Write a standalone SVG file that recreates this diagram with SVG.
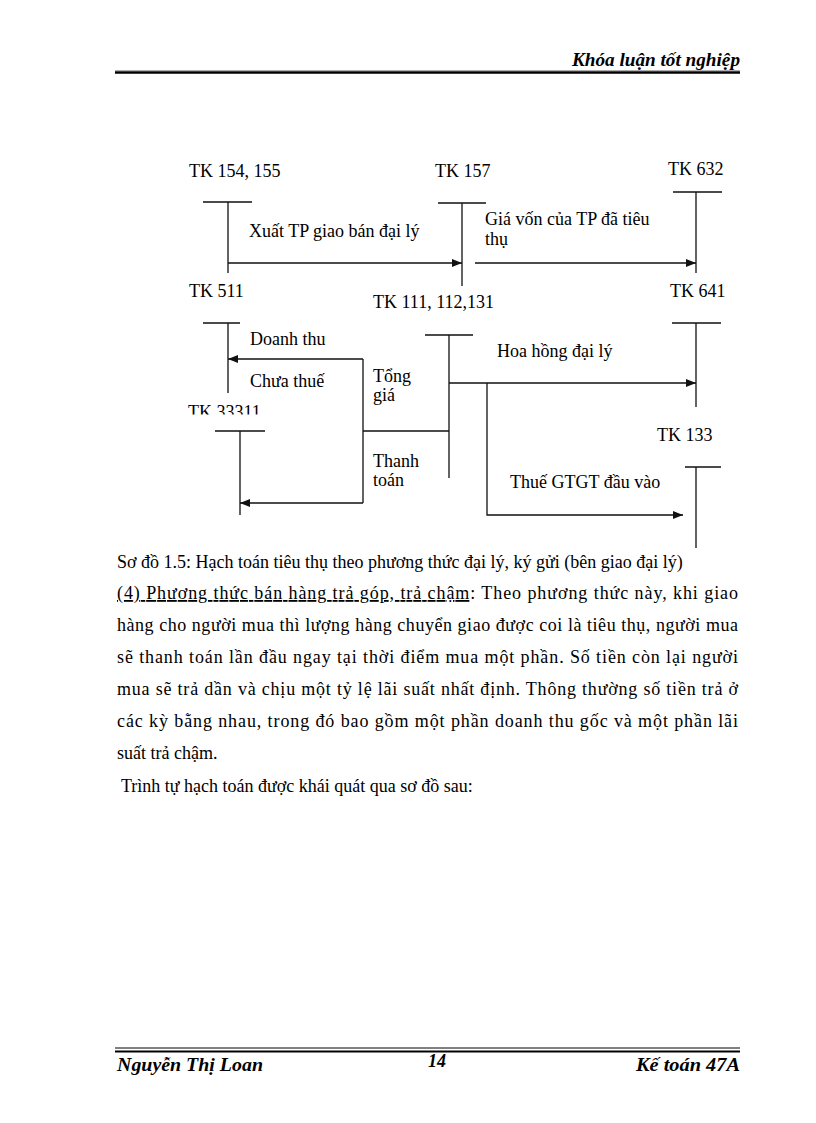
<svg xmlns="http://www.w3.org/2000/svg" width="816" height="1123" viewBox="0 0 816 1123">
<style>
text{font-family:"Liberation Serif","Times New Roman",serif;font-size:18px;fill:#000}
.hf{font-weight:bold;font-style:italic}
.ln{stroke:#111;stroke-width:1.3;fill:none}
.ar{stroke:#111;stroke-width:1.3;fill:none;marker-end:url(#ah)}
</style>
<defs>
<marker id="ah" viewBox="0 0 10 8" refX="10" refY="4" markerWidth="10" markerHeight="8" markerUnits="userSpaceOnUse" orient="auto">
<path d="M0,0 L10,4 L0,8 Z" fill="#111"/>
</marker>
<clipPath id="cut33311"><rect x="180" y="395" width="120" height="19.5"/></clipPath>
</defs>
<rect width="816" height="1123" fill="#fff"/>

<g id="header">
<text class="hf" x="740" y="66" text-anchor="end" textLength="168" lengthAdjust="spacingAndGlyphs">Khóa luận tốt nghiệp</text>
<line x1="115" y1="70.5" x2="740" y2="70.5" stroke="#999" stroke-width="0.8"/>
<line x1="115" y1="72.5" x2="740" y2="72.5" stroke="#000" stroke-width="2.5"/>
</g>

<g id="tk154">
<text x="189" y="177">TK 154, 155</text>
<path class="ln" d="M203,202 H252 M228,202 V273"/>
</g>
<g id="tk157">
<text x="435" y="177">TK 157</text>
<path class="ln" d="M438,203 H486 M462,203 V286"/>
</g>
<g id="tk632">
<text x="668" y="175">TK 632</text>
<path class="ln" d="M673,192 H722 M696,192 V273"/>
</g>
<g id="tk511">
<text x="189" y="297">TK 511</text>
<path class="ln" d="M203,323 H240 M228,323 V393"/>
</g>
<g id="tk111">
<text x="373" y="308">TK 111, 112,131</text>
<path class="ln" d="M425,335 H473 M449,335 V478"/>
</g>
<g id="tk641">
<text x="670" y="297">TK 641</text>
<path class="ln" d="M672,323 H721 M696,323 V407"/>
</g>
<g id="tk33311">
<text x="188" y="418" clip-path="url(#cut33311)">TK 33311</text>
<path class="ln" d="M215,431 H265 M240,431 V515"/>
</g>
<g id="tk133">
<text x="657" y="441">TK 133</text>
<path class="ln" d="M685,467 H721 M696,467 V548"/>
</g>

<g id="connectors">
<line class="ar" x1="228" y1="263" x2="462" y2="263"/>
<line class="ar" x1="475" y1="263" x2="696" y2="263"/>
<path class="ar" d="M363,359 H228"/>
<path class="ln" d="M363,359 V503 M363,431 H449"/>
<path class="ar" d="M363,503 H240"/>
<path class="ar" d="M449,383 H696"/>
<path class="ar" d="M487,383 V515 H683"/>
</g>

<g id="labels">
<text x="249" y="237">Xuất TP giao bán đại lý</text>
<text x="485" y="225">Giá vốn của TP đã tiêu</text>
<text x="485" y="245">thụ</text>
<text x="250" y="345">Doanh thu</text>
<text x="250" y="387">Chưa thuế</text>
<text x="373" y="382">Tổng</text>
<text x="373" y="401">giá</text>
<text x="373" y="467">Thanh</text>
<text x="373" y="486">toán</text>
<text x="497" y="357">Hoa hồng đại lý</text>
<text x="510" y="488">Thuế GTGT đầu vào</text>
</g>

<g id="body">
<text x="117" y="568">Sơ đồ 1.5: Hạch toán tiêu thụ theo phương thức đại lý, ký gửi (bên giao đại lý)</text>
<text x="117" y="599" textLength="621" lengthAdjust="spacing"><tspan text-decoration="underline">(4) Phương thức bán hàng trả góp, trả chậm</tspan>: Theo phương thức này, khi giao</text>
<text x="117" y="631" textLength="621" lengthAdjust="spacing">hàng cho người mua thì lượng hàng chuyển giao được coi là tiêu thụ, người mua</text>
<text x="117" y="663" textLength="621" lengthAdjust="spacing">sẽ thanh toán lần đầu ngay tại thời điểm mua một phần. Số tiền còn lại người</text>
<text x="117" y="695" textLength="621" lengthAdjust="spacing">mua sẽ trả dần và chịu một tỷ lệ lãi suất nhất định. Thông thường số tiền trả ở</text>
<text x="117" y="727" textLength="621" lengthAdjust="spacing">các kỳ bằng nhau, trong đó bao gồm một phần doanh thu gốc và một phần lãi</text>
<text x="117" y="759">suất trả chậm.</text>
<text x="121" y="792">Trình tự hạch toán được khái quát qua sơ đồ sau:</text>
</g>

<g id="footer">
<line x1="115" y1="1048" x2="740" y2="1048" stroke="#000" stroke-width="1"/>
<line x1="115" y1="1051.5" x2="740" y2="1051.5" stroke="#000" stroke-width="2"/>
<text class="hf" x="117" y="1071" textLength="146" lengthAdjust="spacingAndGlyphs">Nguyễn Thị Loan</text>
<text class="hf" x="437" y="1067" text-anchor="middle">14</text>
<text class="hf" x="740" y="1071" text-anchor="end" textLength="104" lengthAdjust="spacingAndGlyphs">Kế toán 47A</text>
</g>
</svg>
